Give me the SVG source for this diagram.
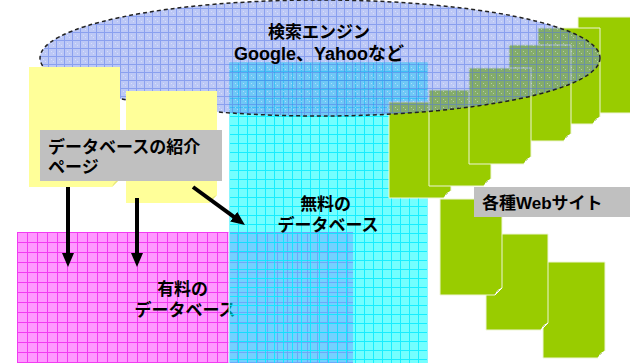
<svg xmlns="http://www.w3.org/2000/svg" xmlns:xlink="http://www.w3.org/1999/xlink" width="630" height="363" viewBox="0 0 630 363">
<style>
  .t { font-family: "Liberation Sans", "Noto Sans CJK JP", sans-serif; font-weight: bold; fill: #000; }
  .f17 { font-size: 17px; }
  .f18 { font-size: 18px; }
  .label { fill: #c0c0c0; }
  .page { fill: #ffff99; }
  .pagefold { fill: #e6e67a; }
  .arrow { stroke: #000; stroke-width: 4; fill: none; marker-end: url(#ah); }
</style>
<defs>
  <pattern id="pEll" width="8" height="8" patternUnits="userSpaceOnUse" x="0" y="0">
    <rect width="8" height="8" fill="#6a86ec" fill-opacity="0.45"/>
    <rect x="0" y="0" width="8" height="1" fill="#4d6fe6" fill-opacity="0.45"/>
    <rect x="0" y="1" width="1" height="7" fill="#4d6fe6" fill-opacity="0.45"/>
    <rect x="3" y="3" width="1" height="1" fill="#ffffff" fill-opacity="0.4"/>
    <rect x="5" y="5" width="1" height="1" fill="#ffffff" fill-opacity="0.4"/>
  </pattern>
  <pattern id="pCyan" width="9" height="9" patternUnits="userSpaceOnUse" x="229" y="62">
    <rect width="9" height="9" fill="#00ffff" fill-opacity="0.55"/>
    <rect x="0" y="0" width="9" height="1" fill="#00eaff" fill-opacity="0.8"/>
    <rect x="0" y="1" width="1" height="8" fill="#00eaff" fill-opacity="0.8"/>
  </pattern>
  <pattern id="pMag" width="10" height="10" patternUnits="userSpaceOnUse" x="17" y="232">
    <rect width="10" height="10" fill="#ff99ff"/>
    <rect x="0" y="0" width="10" height="1" fill="#f23cf2"/>
    <rect x="0" y="1" width="1" height="9" fill="#f23cf2"/>
  </pattern>
  <g id="doc">
    <path d="M0,0 H62 V89 L55,96 H0 Z" fill="#99cc00" stroke="#eef5d6" stroke-width="1"/>
    <path d="M55,96 L62,89 Q57,90.5 55,96 Z" fill="#5f8000" stroke="#ffffff" stroke-width="1"/>
  </g>
  <marker id="ah" viewBox="0 0 14 12" refX="2" refY="6" markerWidth="14" markerHeight="12" markerUnits="userSpaceOnUse" orient="auto">
    <path d="M0,0 L14,6 L0,12 Z" fill="#000"/>
  </marker>
</defs>

<rect width="630" height="363" fill="#ffffff"/>

<g id="paid-db">
  <rect x="17" y="232" width="336" height="140" fill="url(#pMag)"/>
  <text class="t f17" text-anchor="middle">
    <tspan x="185" y="295">有料の</tspan>
    <tspan x="185" y="316">データベース</tspan>
  </text>
</g>

<g id="free-db">
  <rect x="229" y="62" width="199" height="310" fill="url(#pCyan)" stroke="#ffffff" stroke-width="1"/>
  <text class="t f17" text-anchor="middle">
    <tspan x="328" y="210">無料の</tspan>
    <tspan x="328" y="231">データベース</tspan>
  </text>
</g>

<g id="websites">
  <g id="site-1"><use xlink:href="#doc" x="578" y="17"/></g>
  <g id="site-2"><use xlink:href="#doc" x="538" y="28"/></g>
  <g id="site-3"><use xlink:href="#doc" x="509" y="45"/></g>
  <g id="site-6"><use xlink:href="#doc" x="389" y="102"/></g>
  <g id="site-5"><use xlink:href="#doc" x="429" y="90"/></g>
  <g id="site-4"><use xlink:href="#doc" x="469" y="68"/></g>
  <g id="site-9"><use xlink:href="#doc" x="543" y="262"/></g>
  <g id="site-8"><use xlink:href="#doc" x="486" y="234"/></g>
  <g id="site-7"><use xlink:href="#doc" x="440" y="199"/></g>
  <g id="websites-label">
    <rect class="label" x="474" y="187" width="160" height="30"/>
    <text class="t f17" x="482" y="209">各種Webサイト</text>
  </g>
</g>

<g id="search-engine">
  <ellipse cx="320" cy="58" rx="280" ry="58" fill="url(#pEll)" stroke="#222" stroke-width="1.5" stroke-dasharray="4 3"/>
  <text class="t f17" x="319" y="38" text-anchor="middle">検索エンジン</text>
  <text class="t f18" x="319" y="60" text-anchor="middle">Google、Yahooなど</text>
</g>

<g id="intro-pages">
  <path class="page" d="M29,67 H120 V179 L112,187 H29 Z"/>
  <path class="pagefold" d="M112,187 L120,179 Q114,181 112,187 Z"/>
  <path class="page" d="M126,91 H217 V195 L209,203 H126 Z"/>
  <path class="pagefold" d="M209,203 L217,195 Q211,197 209,203 Z"/>
  <rect class="label" x="40" y="130" width="182" height="51"/>
  <text class="t f17">
    <tspan x="48" y="153">データベースの紹介</tspan>
    <tspan x="48" y="173">ページ</tspan>
  </text>
</g>

<g id="connectors">
  <line class="arrow" x1="68" y1="187" x2="68" y2="255"/>
  <line class="arrow" x1="137" y1="198" x2="137" y2="255"/>
  <line class="arrow" x1="193" y1="187" x2="235.3" y2="217.9"/>
</g>
</svg>
